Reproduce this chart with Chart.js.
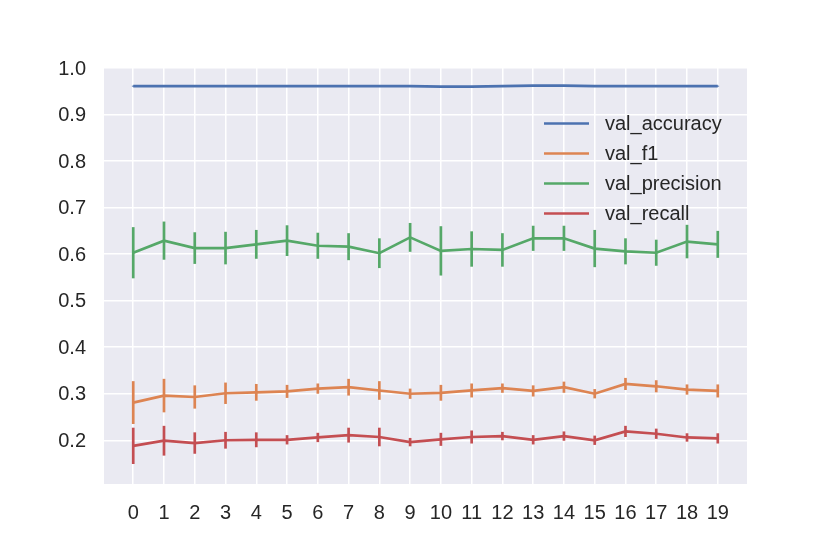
<!DOCTYPE html>
<html>
<head>
<meta charset="utf-8">
<title>Validation metrics</title>
<script src="https://cdn.jsdelivr.net/npm/chart.js@4/dist/chart.umd.min.js"></script>
<style>
    html, body { margin: 0; padding: 0; background: #ffffff; }
    #wrap { width: 830px; height: 554px; }
</style>
</head>
<body>
<div id="wrap"><canvas id="chart" width="830" height="554"></canvas></div>
<script>
// --- DATA ---
const epochs = [0, 1, 2, 3, 4, 5, 6, 7, 8, 9, 10, 11, 12, 13, 14, 15, 16, 17, 18, 19];
const yTicks = [0.2, 0.3, 0.4, 0.5, 0.6, 0.7, 0.8, 0.9, 1.0];

const valAccuracy = [0.961, 0.961, 0.961, 0.961, 0.961, 0.961, 0.961, 0.961, 0.961, 0.961,
                     0.960, 0.960, 0.961, 0.962, 0.962, 0.961, 0.961, 0.961, 0.961, 0.961];
const valAccuracyErr = [0.001, 0.001, 0.001, 0.001, 0.001, 0.001, 0.001, 0.001, 0.001, 0.001,
                        0.001, 0.001, 0.001, 0.001, 0.001, 0.001, 0.001, 0.001, 0.001, 0.001];

const valF1 = [0.281, 0.296, 0.293, 0.301, 0.303, 0.305, 0.311, 0.314, 0.307, 0.300,
               0.302, 0.307, 0.312, 0.306, 0.314, 0.300, 0.321, 0.316, 0.309, 0.306];
const valF1Err = [0.046, 0.036, 0.025, 0.023, 0.018, 0.014, 0.011, 0.018, 0.020, 0.011,
                  0.017, 0.015, 0.010, 0.012, 0.012, 0.010, 0.013, 0.013, 0.011, 0.014];

const valPrecision = [0.603, 0.629, 0.613, 0.613, 0.621, 0.629, 0.618, 0.616, 0.602, 0.636,
                      0.607, 0.611, 0.609, 0.634, 0.634, 0.612, 0.606, 0.603, 0.627, 0.621];
const valPrecisionErr = [0.055, 0.041, 0.034, 0.035, 0.031, 0.033, 0.028, 0.029, 0.032, 0.031,
                         0.053, 0.038, 0.036, 0.027, 0.027, 0.040, 0.028, 0.028, 0.036, 0.029];

const valRecall = [0.188, 0.199, 0.194, 0.200, 0.201, 0.201, 0.206, 0.211, 0.207, 0.196,
                   0.202, 0.207, 0.209, 0.201, 0.209, 0.200, 0.219, 0.214, 0.206, 0.204];
const valRecallErr = [0.039, 0.032, 0.023, 0.018, 0.016, 0.010, 0.010, 0.016, 0.020, 0.009,
                      0.014, 0.014, 0.009, 0.010, 0.010, 0.010, 0.012, 0.011, 0.009, 0.011];

const seriesNames = ["val_accuracy", "val_f1", "val_precision", "val_recall"];
const seriesColors = ["#4C72B0", "#DD8452", "#55A868", "#C44E52"];

// --- HELPERS ---
const FONT = "'Liberation Sans', Arial, Helvetica, sans-serif";
const TEXT_COLOR = "#262626";
const LINE_W = 2.7;

function toPoints(vals) {
    return epochs.map((e, i) => ({ x: e, y: vals[i] }));
}

function makeDataset(i, vals, errs) {
    return {
        label: seriesNames[i],
        data: toPoints(vals),
        errors: errs,
        borderColor: seriesColors[i],
        backgroundColor: seriesColors[i],
        borderWidth: LINE_W,
        pointRadius: 0,
        pointHoverRadius: 0,
        tension: 0,
        fill: false
    };
}

// axes background, seaborn darkgrid look
const bgPlugin = {
    id: "axesBg",
    beforeDraw(chart) {
        const { ctx, chartArea: a } = chart;
        ctx.save();
        ctx.fillStyle = "#EAEAF2";
        ctx.fillRect(a.left, a.top, a.right - a.left, a.bottom - a.top);
        ctx.restore();
    }
};

// vertical error bars (no caps), drawn with each dataset
const errorBarPlugin = {
    id: "errorBars",
    afterDatasetDraw(chart, args) {
        const ds = chart.data.datasets[args.index];
        if (!ds.errors) return;
        const { ctx } = chart;
        const xs = chart.scales.x, ys = chart.scales.y;
        ctx.save();
        ctx.strokeStyle = ds.borderColor;
        ctx.lineWidth = LINE_W;
        ds.data.forEach((p, i) => {
            const px = xs.getPixelForValue(p.x);
            ctx.beginPath();
            ctx.moveTo(px, ys.getPixelForValue(p.y - ds.errors[i]));
            ctx.lineTo(px, ys.getPixelForValue(p.y + ds.errors[i]));
            ctx.stroke();
        });
        ctx.restore();
    }
};

// frameless legend in the upper right of the axes
const legendPlugin = {
    id: "mplLegend",
    afterDraw(chart) {
        const { ctx } = chart;
        const x0 = 544, lineLen = 45, textX = 605, y0 = 123.5, rowH = 30;
        ctx.save();
        ctx.font = "20px " + FONT;
        ctx.textBaseline = "middle";
        ctx.textAlign = "left";
        chart.data.datasets.forEach((ds, i) => {
            const y = y0 + i * rowH;
            ctx.strokeStyle = ds.borderColor;
            ctx.lineWidth = LINE_W;
            ctx.beginPath();
            ctx.moveTo(x0, y);
            ctx.lineTo(x0 + lineLen, y);
            ctx.stroke();
            ctx.fillStyle = TEXT_COLOR;
            ctx.fillText(ds.label, textX, y + 1);
        });
        ctx.restore();
    }
};

// --- CHART ---
new Chart(document.getElementById("chart").getContext("2d"), {
    type: "line",
    data: {
        datasets: [
            makeDataset(0, valAccuracy, valAccuracyErr),
            makeDataset(1, valF1, valF1Err),
            makeDataset(2, valPrecision, valPrecisionErr),
            makeDataset(3, valRecall, valRecallErr)
        ]
    },
    options: {
        responsive: false,
        animation: false,
        layout: { padding: { left: 0, top: 68, right: 83, bottom: 0 } },
        plugins: {
            legend: { display: false },
            tooltip: { enabled: false }
        },
        scales: {
            x: {
                type: "linear",
                min: -0.95,
                max: 19.95,
                afterBuildTicks: (scale) => { scale.ticks = epochs.map(v => ({ value: v })); },
                afterFit: (scale) => { scale.height = 70; },
                grid: { color: "#ffffff", lineWidth: 1.5, drawTicks: false },
                border: { display: false },
                ticks: {
                    color: TEXT_COLOR,
                    font: { family: FONT, size: 20 },
                    padding: 17,
                    maxRotation: 0,
                    autoSkip: false
                }
            },
            y: {
                type: "linear",
                min: 0.106,
                max: 1.0,
                afterBuildTicks: (scale) => { scale.ticks = yTicks.map(v => ({ value: v })); },
                afterFit: (scale) => { scale.width = 104; },
                grid: { color: "#ffffff", lineWidth: 1.5, drawTicks: false },
                border: { display: false },
                ticks: {
                    color: TEXT_COLOR,
                    font: { family: FONT, size: 20 },
                    padding: 18,
                    labelOffset: 1,
                    callback: (v) => Number(v).toFixed(1)
                }
            }
        }
    },
    plugins: [bgPlugin, errorBarPlugin, legendPlugin]
});
</script>
</body>
</html>
